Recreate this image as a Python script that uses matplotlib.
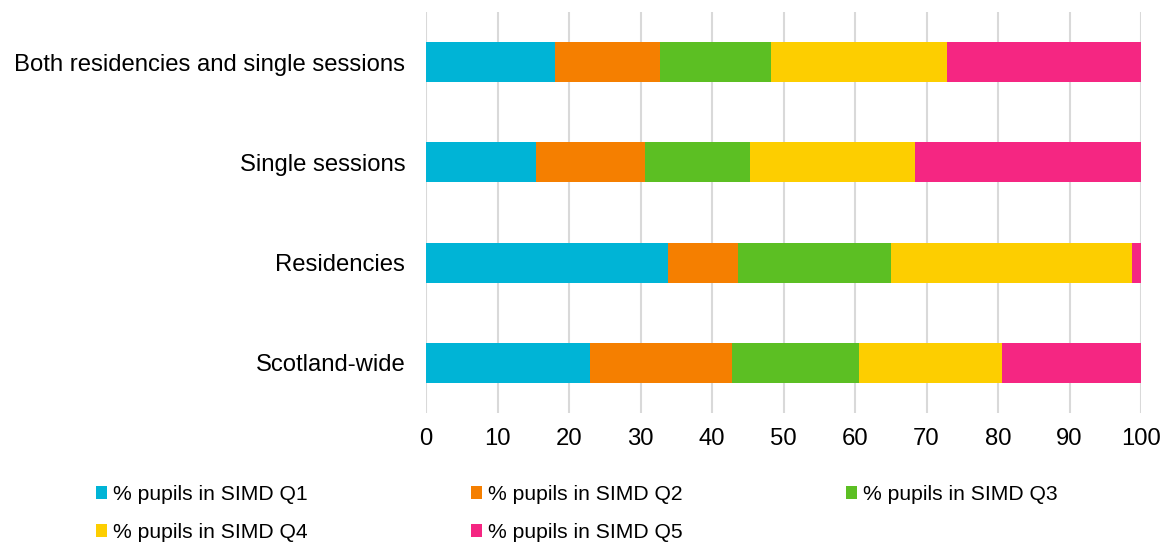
import matplotlib
matplotlib.use("Agg")
import matplotlib.pyplot as plt
from matplotlib.patches import Patch
import numpy as np

plt.rcParams['font.family'] = ['Liberation Sans', 'DejaVu Sans']

categories = ["Both residencies and single sessions", "Single sessions", "Residencies", "Scotland-wide"]
series_names = ["% pupils in SIMD Q1", "% pupils in SIMD Q2", "% pupils in SIMD Q3",
                "% pupils in SIMD Q4", "% pupils in SIMD Q5"]
q1 = [18.1, 15.4, 33.9, 23.0]
q2 = [14.6, 15.2, 9.8, 19.8]
q3 = [15.6, 14.7, 21.4, 17.8]
q4 = [24.6, 23.1, 33.7, 19.9]
q5 = [27.1, 31.6, 1.2, 19.5]
colors = ["#00B4D6", "#F57F00", "#5CBF23", "#FDCE00", "#F52682"]
xticks = [0, 10, 20, 30, 40, 50, 60, 70, 80, 90, 100]

fs = 17.2
fig = plt.figure(figsize=(11.66, 5.44), dpi=100)
ax = fig.add_axes([426/1166, 1-413/544, 715/1166, 401/544])

y = np.arange(len(categories))
left = np.zeros(len(categories))
for vals, c, name in zip([q1, q2, q3, q4, q5], colors, series_names):
    ax.barh(y, vals, left=left, height=0.4, color=c, label=name, zorder=3,
            edgecolor='none')
    left = left + np.array(vals)

ax.set_xlim(0, 100)
ax.set_ylim(len(categories) - 0.5, -0.5)
ax.set_yticks(y)
ax.set_yticklabels(categories, fontsize=fs)
ax.set_xticks(xticks)
ax.set_xticklabels([str(t) for t in xticks], fontsize=fs)
ax.tick_params(axis='both', length=0)
ax.tick_params(axis='y', pad=15)
ax.tick_params(axis='x', pad=11)
ax.grid(axis='x', color='#D9D9D9', linewidth=1.5, zorder=0)
for s in ax.spines.values():
    s.set_visible(False)

handles = [Patch(facecolor=c, edgecolor='none') for c in colors]
order = [0, 3, 1, 4, 2]
leg = fig.legend([handles[i] for i in order], [series_names[i] for i in order],
                 ncol=3, loc='upper left', bbox_to_anchor=(96/1166, 1-485/544),
                 frameon=False, fontsize=15.2, handlelength=0.5, handleheight=0.5,
                 handletextpad=0.3, columnspacing=7.75, labelspacing=0.9,
                 borderpad=0, borderaxespad=0)

fig.savefig("out.png", dpi=100)
